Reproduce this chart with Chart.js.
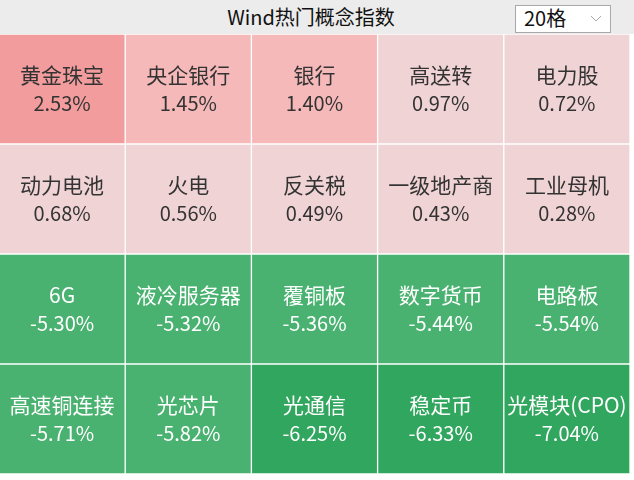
<!DOCTYPE html>
<html lang="zh">
<head>
    <meta charset="UTF-8">
    <title>Wind热门概念指数</title>
    <style>
        body {
            margin: 0;
            padding: 0;
            background-color: #fff;
            font-family: "Noto Sans CJK SC", "Noto Sans", sans-serif;
            overflow: hidden;
        }

        .header {
            position: absolute;
            left: 0;
            top: 0;
            width: 634px;
            height: 34px;
            background-color: #ececec;
        }

        .title {
            position: absolute;
            left: 0;
            width: 622px;
            top: 2px;
            text-align: center;
            font-size: 20px;
            line-height: 30px;
            color: #111;
        }

        .picker {
            position: absolute;
            left: 515px;
            top: 5px;
            width: 94px;
            height: 26px;
            background-color: #fff;
            border: 1px solid #a8a8a8;
            font-size: 20px;
            line-height: 26px;
            color: #111;
        }

        .picker span {
            position: absolute;
            left: 8px;
            top: -1px;
        }

        .picker svg {
            position: absolute;
            right: 8px;
            top: 9px;
        }

        .chart-box {
            position: absolute;
            left: -1px;
            top: 34px;
            width: 631px;
            height: 440px;
        }
    </style>
</head>
<body>
    <div class="header">
        <div class="title">Wind热门概念指数</div>
        <div class="picker">
            <span>20格</span>
            <svg width="12" height="8"><polyline points="1,1 6,6 11,1" fill="none" stroke="#aaa" stroke-width="1"/></svg>
        </div>
    </div>
    <div class="chart-box">
        <canvas id="heat"></canvas>
    </div>

    <script src="https://cdn.jsdelivr.net/npm/chart.js"></script>
    <script>
        // concept names, row by row (5 per row)
        const names = [
            '黄金珠宝', '央企银行', '银行', '高送转', '电力股',
            '动力电池', '火电', '反关税', '一级地产商', '工业母机',
            '6G', '液冷服务器', '覆铜板', '数字货币', '电路板',
            '高速铜连接', '光芯片', '光通信', '稳定币', '光模块(CPO)'
        ];
        // daily change, %
        const changes = [
            2.53, 1.45, 1.40, 0.97, 0.72,
            0.68, 0.56, 0.49, 0.43, 0.28,
            -5.30, -5.32, -5.36, -5.44, -5.54,
            -5.71, -5.82, -6.25, -6.33, -7.04
        ];
        const columns = ['1', '2', '3', '4', '5'];
        const rowCount = 4;

        function cellColor(v) {
            if (v >= 2) return '#f29c9d';
            if (v >= 1) return '#f5b9b9';
            if (v >= 0) return '#f0d3d4';
            if (v > -6) return '#4ab270';
            return '#30a65e';
        }

        const datasets = [];
        for (let r = 0; r < rowCount; r++) {
            const rowVals = changes.slice(r * 5, r * 5 + 5);
            datasets.push({
                label: 'row' + r,
                data: columns.map(() => 1),
                backgroundColor: rowVals.map(cellColor),
                borderColor: '#ffffff',
                borderWidth: 1,
                borderSkipped: false,
                categoryPercentage: 1,
                barPercentage: 1
            });
        }

        const cellLabels = {
            id: 'cellLabels',
            afterDatasetsDraw(chart) {
                const ctx = chart.ctx;
                ctx.save();
                ctx.textAlign = 'center';
                ctx.textBaseline = 'middle';
                chart.data.datasets.forEach((ds, r) => {
                    chart.getDatasetMeta(r).data.forEach((bar, c) => {
                        const i = r * 5 + c;
                        const p = bar.getCenterPoint();
                        ctx.fillStyle = changes[i] < 0 ? '#ffffff' : '#333333';
                        ctx.font = '21px "Noto Sans CJK SC", sans-serif';
                        ctx.fillText(names[i], p.x, p.y - 14);
                        ctx.font = '20px "Noto Sans CJK SC", sans-serif';
                        ctx.fillText(changes[i].toFixed(2) + '%', p.x, p.y + 14);
                    });
                });
                ctx.restore();
            }
        };

        new Chart(document.getElementById('heat'), {
            type: 'bar',
            data: { labels: columns, datasets: datasets },
            options: {
                responsive: true,
                maintainAspectRatio: false,
                animation: false,
                layout: { padding: 0 },
                plugins: {
                    legend: { display: false },
                    tooltip: { enabled: false }
                },
                scales: {
                    x: { stacked: true, display: false },
                    y: { stacked: true, display: false, reverse: true, min: 0, max: rowCount }
                }
            },
            plugins: [cellLabels]
        });
    </script>
</body>
</html>
